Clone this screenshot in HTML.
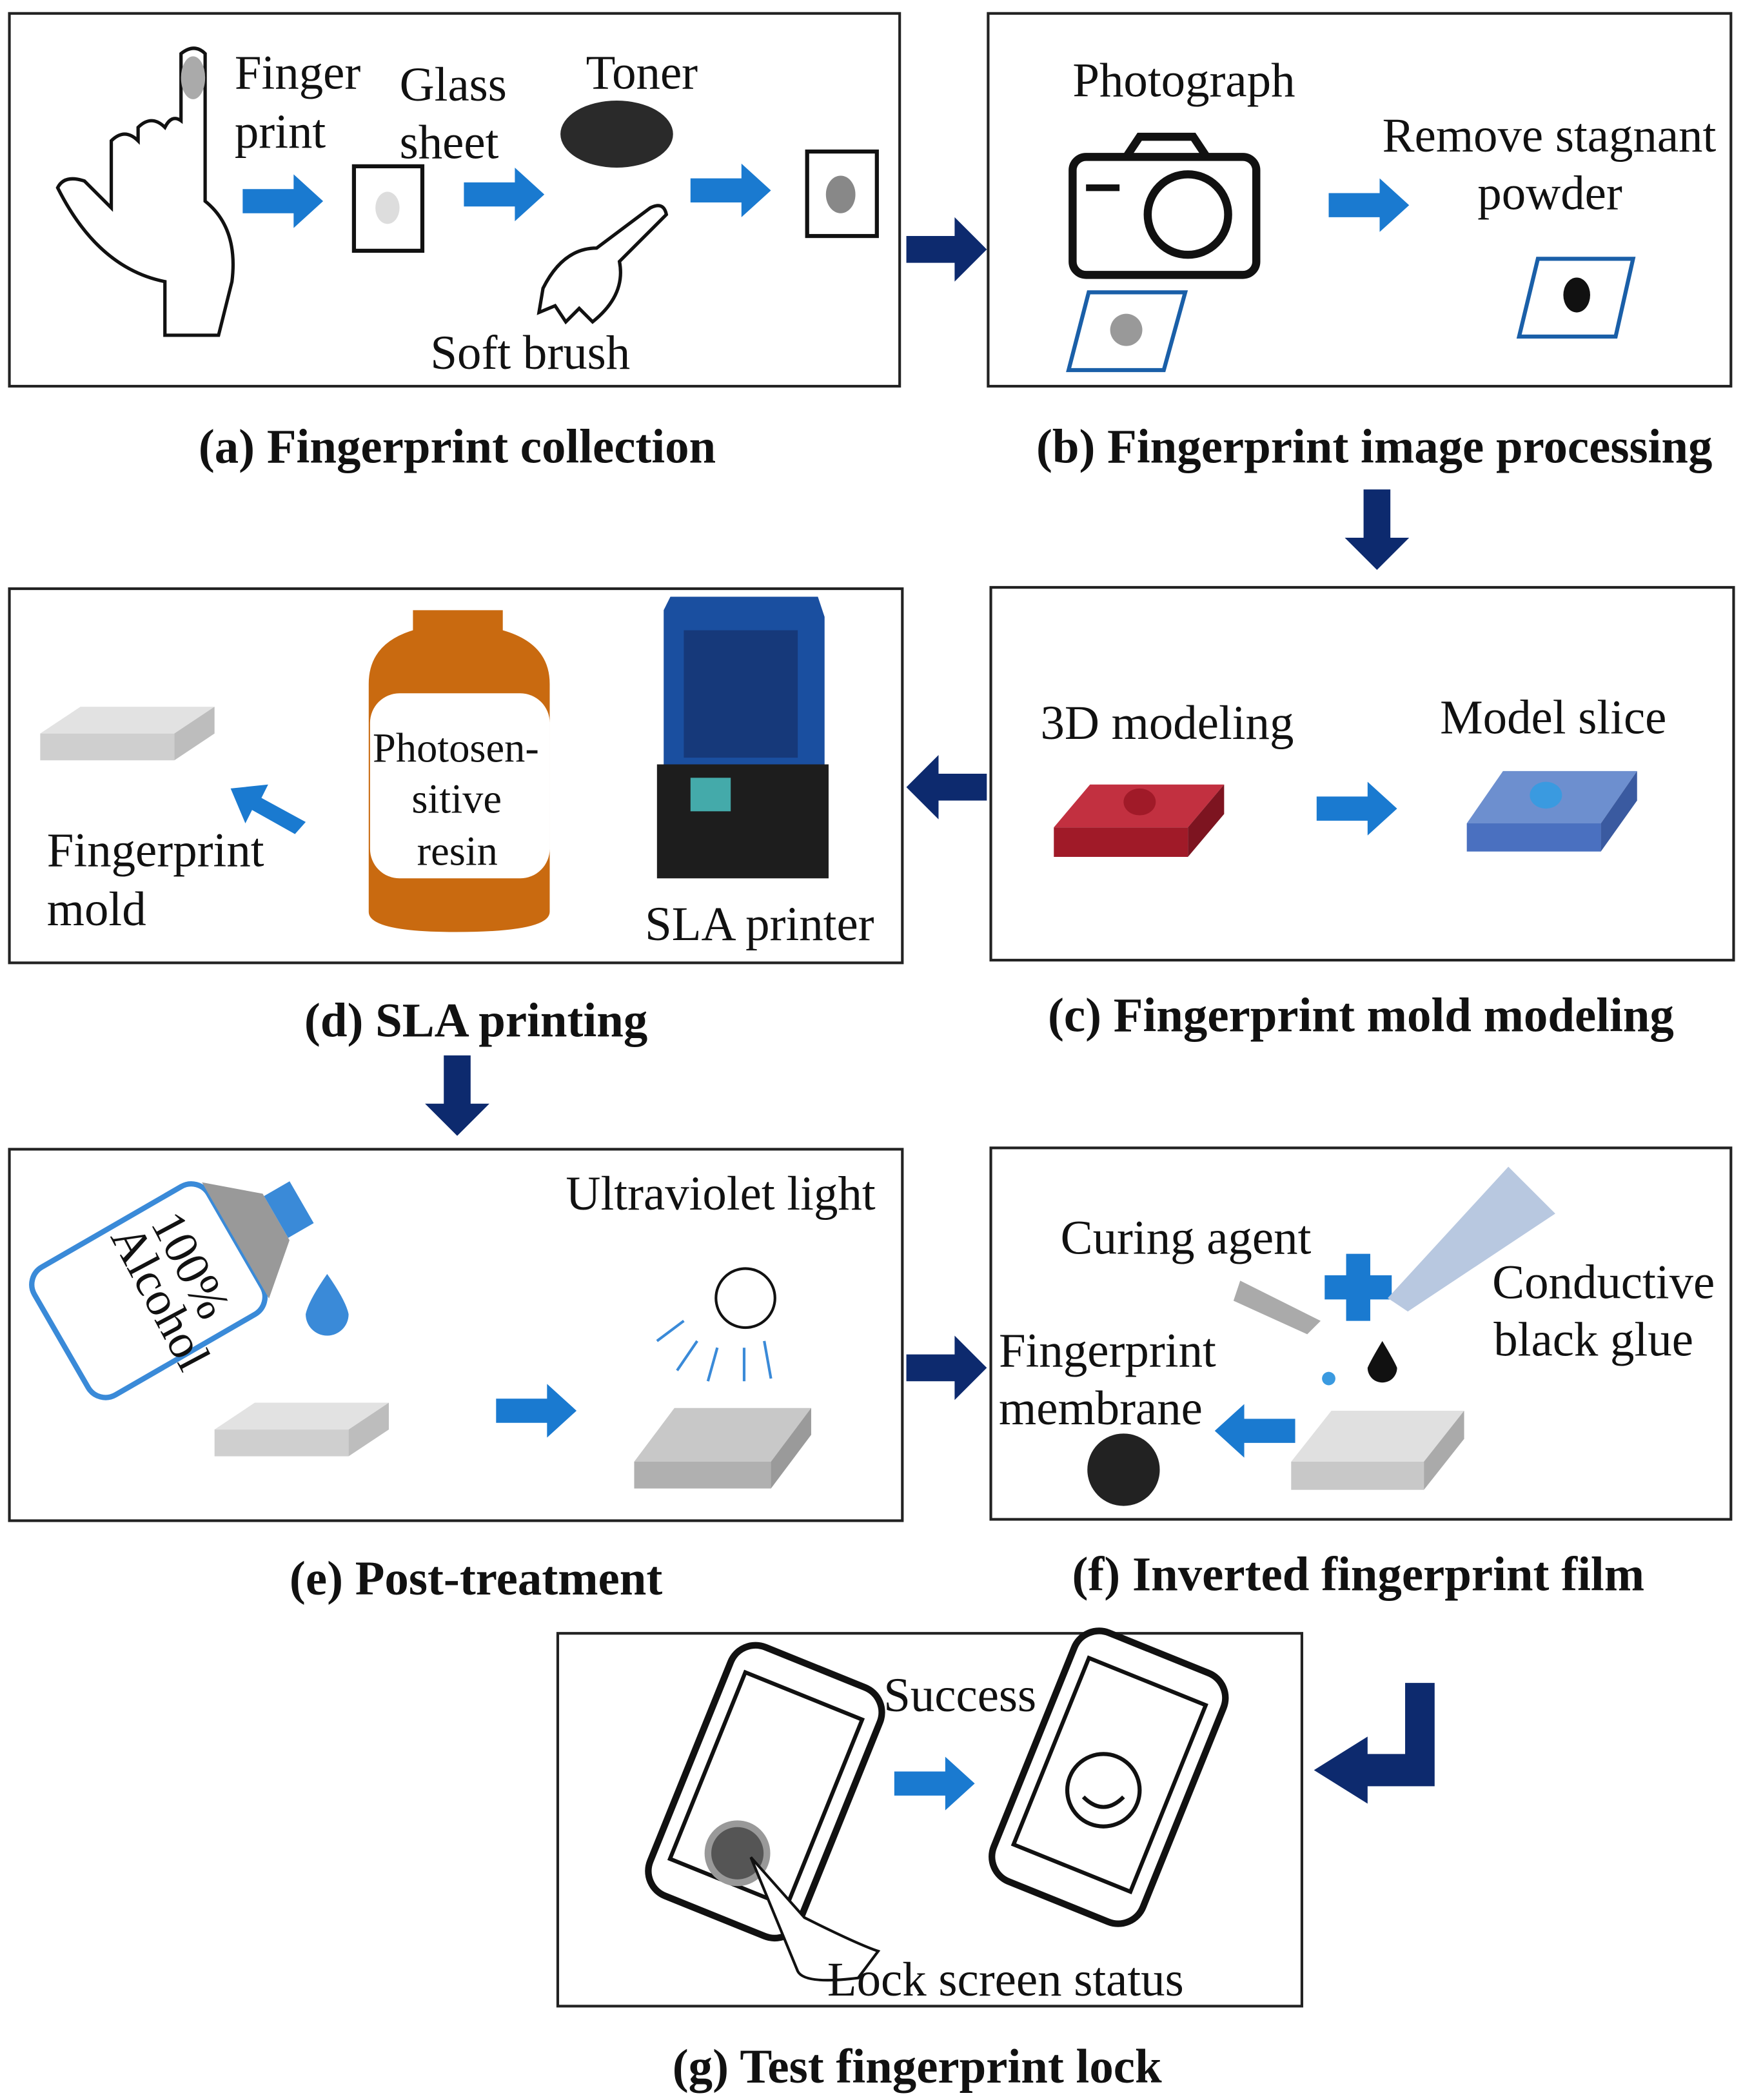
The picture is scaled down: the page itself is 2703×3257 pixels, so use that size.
<!DOCTYPE html>
<html><head><meta charset="utf-8"><style>
html,body{margin:0;padding:0;background:#fff}
svg{display:block}
text{font-family:"Liberation Serif",serif}
.t{font-size:36px;fill:#111}
.c{font-size:36px;font-weight:bold;fill:#111;text-anchor:middle}
.box{fill:#fff;stroke:#222;stroke-width:2}
</style></head><body>
<svg width="2703" height="3257" viewBox="0 0 1300 1566" preserveAspectRatio="none" xmlns="http://www.w3.org/2000/svg">
<defs>
<g id="ba"><path d="M0,-9 H38 V-20 L60,0 L38,20 V9 H0 Z" fill="#1a7ad0"/></g>
<g id="na"><path d="M0,-10 H36 V-24 L60,0 L36,24 V10 H0 Z" fill="#0d2a6e"/></g>
<g id="slab"><path d="M0,20 L30,0 H130 L100,20 Z" fill="#e2e2e2"/><path d="M0,20 H100 V40 H0 Z" fill="#cfcfcf"/><path d="M100,20 L130,0 V20 L100,40 Z" fill="#bdbdbd"/></g>
</defs>
<!-- panel a -->
<rect class="box" x="7" y="10" width="664" height="278"/>
<path d="M135,40 q10,-8 18,0 v110 q25,20 20,60 l-10,40 h-40 v-40 q-50,-10 -80,-70 q5,-10 20,-5 l20,20 v-50 q10,-10 20,0 v-10 q10,-10 20,0 q5,-10 12,-5 Z" fill="#fff" stroke="#111" stroke-width="2.5"/>
<ellipse cx="144" cy="58" rx="9" ry="16" fill="#aaa"/>
<text class="t" x="175" y="66">Finger</text><text class="t" x="175" y="110">print</text>
<use href="#ba" x="181" y="150"/>
<rect x="264" y="124" width="51" height="63" fill="#fff" stroke="#111" stroke-width="3"/>
<ellipse cx="289" cy="155" rx="9" ry="12" fill="#ddd"/>
<text class="t" x="298" y="75">Glass</text><text class="t" x="298" y="118">sheet</text>
<use href="#ba" x="346" y="145"/>
<text class="t" x="437" y="66">Toner</text>
<ellipse cx="460" cy="100" rx="42" ry="25" fill="#2a2a2a"/>
<path d="M405,215 q15,-30 40,-30 l40,-30 q10,-5 12,5 l-35,35 q5,25 -20,45 l-10,-10 l-10,10 l-8,-12 l-12,5 Z" fill="#fff" stroke="#111" stroke-width="2.5"/>
<text class="t" x="321" y="275">Soft brush</text>
<use href="#ba" x="515" y="142"/>
<rect x="602" y="113" width="52" height="63" fill="#fff" stroke="#111" stroke-width="3"/>
<ellipse cx="627" cy="145" rx="11" ry="14" fill="#888"/>
<use href="#na" x="676" y="186"/>
<!-- panel b -->
<rect class="box" x="737" y="10" width="554" height="278"/>
<text class="t" x="800" y="72">Photograph</text>
<rect x="800" y="117" width="137" height="88" rx="10" fill="#fff" stroke="#111" stroke-width="6"/>
<path d="M840,117 l10,-15 h40 l10,15" fill="none" stroke="#111" stroke-width="6"/>
<circle cx="886" cy="160" r="30" fill="#fff" stroke="#111" stroke-width="6"/>
<line x1="810" y1="140" x2="835" y2="140" stroke="#111" stroke-width="5"/>
<path d="M812,218 H884 L868,276 H797 Z" fill="#fff" stroke="#1a5fa8" stroke-width="3"/>
<circle cx="840" cy="246" r="12" fill="#999"/>
<use href="#ba" x="991" y="153"/>
<text class="t" x="1031" y="113">Remove stagnant</text><text class="t" x="1102" y="156">powder</text>
<path d="M1147,193 H1218 L1205,251 H1133 Z" fill="#fff" stroke="#1a5fa8" stroke-width="3"/>
<ellipse cx="1176" cy="220" rx="10" ry="13" fill="#111"/>
<text class="c" x="341" y="345">(a) Fingerprint collection</text>
<text class="c" x="1025" y="345">(b) Fingerprint image processing</text>
<g transform="translate(1027,365) rotate(90)"><use href="#na"/></g>
<!-- panel c -->
<rect class="box" x="739" y="438" width="554" height="278"/>
<text class="t" x="776" y="551">3D modeling</text>
<text class="t" x="1074" y="547">Model slice</text>
<path d="M786,617 L813,585 H913 L886,617 Z" fill="#c23040"/><rect x="786" y="617" width="100" height="22" fill="#a01a28"/><path d="M886,617 L913,585 V607 L886,639 Z" fill="#7d1420"/>
<ellipse cx="850" cy="598" rx="12" ry="10" fill="#a01a28"/>
<use href="#ba" x="982" y="603"/>
<path d="M1094,614 L1121,575 H1221 L1194,614 Z" fill="#6d8fcf"/><rect x="1094" y="614" width="100" height="21" fill="#4a70c0"/><path d="M1194,614 L1221,575 V597 L1194,635 Z" fill="#3a5aa0"/>
<ellipse cx="1153" cy="593" rx="12" ry="10" fill="#3a9ae0"/>
<!-- panel d -->
<rect class="box" x="7" y="439" width="666" height="279"/>
<use href="#slab" x="30" y="527"/>
<path d="M228,613 L195,595 L200,585 L172,588 L183,614 L188,604 L220,622 Z" fill="#1a7ad0"/>
<text class="t" x="35" y="646">Fingerprint</text><text class="t" x="35" y="690">mold</text>
<path d="M308,455 H375 V470 Q410,480 410,510 V680 Q410,695 340,695 Q275,695 275,680 V510 Q275,480 308,470 Z" fill="#c96a10"/>
<rect x="276" y="517" width="134" height="138" rx="22" fill="#fff"/>
<text class="t" x="278" y="568" style="font-size:31px">Photosen-</text>
<text class="t" x="307" y="606" style="font-size:31px">sitive</text>
<text class="t" x="311" y="645" style="font-size:31px">resin</text>
<path d="M495,455 L500,445 H610 L615,460 V570 H495 Z" fill="#1a4fa0"/>
<rect x="510" y="470" width="85" height="95" fill="#16306a" opacity="0.7"/>
<rect x="490" y="570" width="128" height="85" fill="#1d1d1d"/>
<rect x="515" y="580" width="30" height="25" fill="#4aa"/>
<text class="t" x="481" y="701">SLA printer</text>
<g transform="translate(736,587) rotate(180)"><use href="#na"/></g>
<text class="c" x="355" y="773">(d) SLA printing</text>
<text class="c" x="1015" y="769">(c) Fingerprint mold modeling</text>
<g transform="translate(341,787) rotate(90)"><use href="#na"/></g>
<!-- panel e -->
<rect class="box" x="7" y="857" width="666" height="277"/>
<g transform="translate(115,960) rotate(-30)">
<rect x="-80" y="-55" width="150" height="110" rx="15" fill="#fff" stroke="#3a8ad8" stroke-width="4"/>
<path d="M70,-50 L105,-20 V20 L70,50 Z" fill="#999"/>
<rect x="105" y="-18" width="22" height="36" fill="#3a8ad8"/>
</g>
<text class="t" transform="translate(112,912) rotate(62)">100%</text>
<text class="t" transform="translate(82,922) rotate(62)">Alcohol</text>
<path d="M244,950 Q230,970 228,980 A16,16 0 1,0 260,980 Q258,970 244,950 Z" fill="#3a8ad8"/>
<use href="#slab" x="160" y="1046"/>
<text class="t" x="422" y="902">Ultraviolet light</text>
<circle cx="556" cy="968" r="22" fill="#fff" stroke="#111" stroke-width="2"/>
<path d="M510,985 L490,1000 M520,1000 L505,1022 M535,1005 L528,1030 M555,1005 L555,1030 M570,1000 L575,1028" stroke="#3a8ad8" stroke-width="2"/>
<use href="#ba" x="370" y="1052"/>
<path d="M473,1090 L503,1050 H605 L575,1090 Z" fill="#c8c8c8"/><rect x="473" y="1090" width="102" height="20" fill="#b0b0b0"/><path d="M575,1090 L605,1050 V1070 L575,1110 Z" fill="#9a9a9a"/>
<use href="#na" x="676" y="1020"/>
<!-- panel f -->
<rect class="box" x="739" y="856" width="552" height="277"/>
<text class="t" x="791" y="935">Curing agent</text>
<path d="M1004,935 h18 v16 h16 v18 h-16 v16 h-18 v-16 h-16 v-18 h16 Z" fill="#1a7ad0"/>
<path d="M925,955 L985,985 L975,995 L920,970 Z" fill="#aaa"/>
<path d="M1035,968 L1125,870 L1160,905 L1050,978 Z" fill="#b8c8e0"/>
<text class="t" x="1113" y="968">Conductive</text><text class="t" x="1114" y="1011">black glue</text>
<path d="M1031,1000 Q1022,1015 1020,1020 A11,11 0 1,0 1042,1020 Q1040,1015 1031,1000 Z" fill="#111"/>
<circle cx="991" cy="1028" r="5" fill="#3a9ae0"/>
<text class="t" x="745" y="1019">Fingerprint</text><text class="t" x="745" y="1062">membrane</text>
<circle cx="838" cy="1096" r="27" fill="#222"/>
<g transform="translate(966,1067) rotate(180)"><use href="#ba"/></g>
<path d="M963,1090 L993,1052 H1092 L1062,1090 Z" fill="#e0e0e0"/><rect x="963" y="1090" width="99" height="21" fill="#c8c8c8"/><path d="M1062,1090 L1092,1052 V1073 L1062,1111 Z" fill="#aaa"/>
<text class="c" x="355" y="1189">(e) Post-treatment</text>
<text class="c" x="1013" y="1186">(f) Inverted fingerprint film</text>
<!-- panel g -->
<rect class="box" x="416" y="1218" width="555" height="278"/>
<g transform="rotate(22,565,1350)"><rect x="505" y="1235" width="120" height="200" rx="20" fill="#fff" stroke="#111" stroke-width="5"/><rect x="518" y="1258" width="94" height="150" fill="#fff" stroke="#111" stroke-width="3"/></g>
<circle cx="550" cy="1382" r="22" fill="#555" stroke="#999" stroke-width="5"/>
<path d="M560,1385 L600,1430 Q640,1450 655,1455 L640,1475 Q600,1480 595,1470 Z" fill="#fff" stroke="#111" stroke-width="2"/>
<text class="t" x="659" y="1276">Success</text>
<use href="#ba" x="667" y="1330"/>
<g transform="rotate(22,825,1330)"><rect x="765" y="1225" width="120" height="200" rx="20" fill="#fff" stroke="#111" stroke-width="5"/><rect x="778" y="1248" width="94" height="150" fill="#fff" stroke="#111" stroke-width="3"/></g>
<circle cx="823" cy="1335" r="27" fill="none" stroke="#111" stroke-width="3"/>
<path d="M808,1340 q15,15 30,0" fill="none" stroke="#111" stroke-width="3"/>
<text class="t" x="617" y="1488">Lock screen status</text>
<path d="M1048,1255 H1070 V1332 H1020 V1345 L980,1320 L1020,1295 V1308 H1048 Z" fill="#0d2a6e"/>
<text class="c" x="684" y="1553">(g) Test fingerprint lock</text>
</svg>
</body></html>
